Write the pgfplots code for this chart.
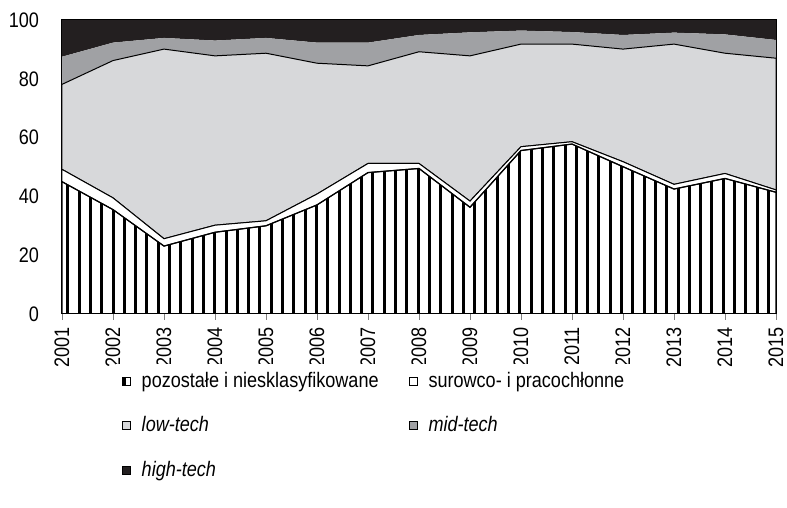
\documentclass[border=0pt]{standalone}
\usepackage{fontspec}
\setmainfont{Liberation Sans}[FakeStretch=0.86]
\usepackage{pgfplots}
\usepackage{pgfplotstable}
\pgfplotsset{compat=1.18}
\usetikzlibrary{patterns.meta}
\definecolor{lowc}{RGB}{215,216,218}
\definecolor{midc}{RGB}{160,161,164}
\definecolor{highc}{RGB}{35,31,32}
\pgfplotstableread{
year poz sur low mid high
2001 45.0 4.2 28.9 9.4 12.5
2002 35.5 4.0 46.7 6.1 7.7
2003 23.1 2.5 64.5 3.8 6.1
2004 27.8 2.4 57.6 5.2 7.0
2005 30.0 1.7 57.0 5.2 6.1
2006 37.1 3.7 44.5 7.0 7.7
2007 48.1 3.1 33.2 7.9 7.7
2008 49.5 1.7 38.0 5.7 5.1
2009 36.3 2.1 49.4 8.0 4.2
2010 55.6 1.3 34.9 4.6 3.6
2011 57.8 0.8 33.2 4.1 4.1
2012 50.1 1.7 38.3 4.8 5.1
2013 42.5 1.6 47.7 3.9 4.3
2014 46.1 1.7 40.9 6.4 4.9
2015 41.4 0.8 44.8 6.2 6.8
}\data
\begin{document}
\begin{tikzpicture}
\path[use as bounding box] (-31pt,-97pt) rectangle (362.5pt,157pt);
\begin{axis}[
  scale only axis, width=357pt, height=147pt,
  xmin=2001, xmax=2015, ymin=0, ymax=100,
  stack plots=y,
  axis on top,
  xtick={2001,2002,...,2015}, ytick={0,20,...,100},
  /pgf/number format/assume math mode=true,
  /pgf/number format/1000 sep={},
  every tick label/.append style={font=\fontsize{10.5}{12}\selectfont},
  xticklabel style={rotate=90, anchor=east},
  yticklabel style={xshift=-5pt},
  tick align=outside, xtick pos=bottom, ytick pos=left,
  ytick style={draw=none}, major tick length=3pt,
  axis line style={line width=0.5pt},
  legend columns=2,
  legend cell align=left,
  legend style={at={(0.075,-0.17)}, anchor=north west, draw=none,
    font=\fontsize{10.5}{12}\selectfont, row sep=9pt},
  legend image code/.code={\draw[#1, draw=black, line width=0.4pt] (0pt,-2pt) rectangle (4pt,2pt);},
]
\addplot[draw=black, line width=0.6pt, pattern={Lines[angle=90,distance=5.65pt,line width=1.5pt]}] table[x=year,y=poz]{\data} \closedcycle;
\addlegendentry{\hspace*{3.5pt}\makebox[131.5pt][l]{pozostałe i niesklasyfikowane}}
\addplot[draw=black, line width=0.5pt, fill=white] table[x=year,y=sur]{\data} \closedcycle;
\addlegendentry{\hspace*{3.5pt}surowco- i pracochłonne}
\addplot[draw=black, line width=0.5pt, fill=lowc] table[x=year,y=low]{\data} \closedcycle;
\addlegendentry{\hspace*{3.5pt}\textit{low-tech}}
\addplot[draw=none, fill=midc] table[x=year,y=mid]{\data} \closedcycle;
\addlegendentry{\hspace*{3.5pt}\textit{mid-tech}}
\addplot[draw=none, fill=highc] table[x=year,y=high]{\data} \closedcycle;
\addlegendentry{\hspace*{3.5pt}\textit{high-tech}}
\end{axis}
\end{tikzpicture}
\end{document}
